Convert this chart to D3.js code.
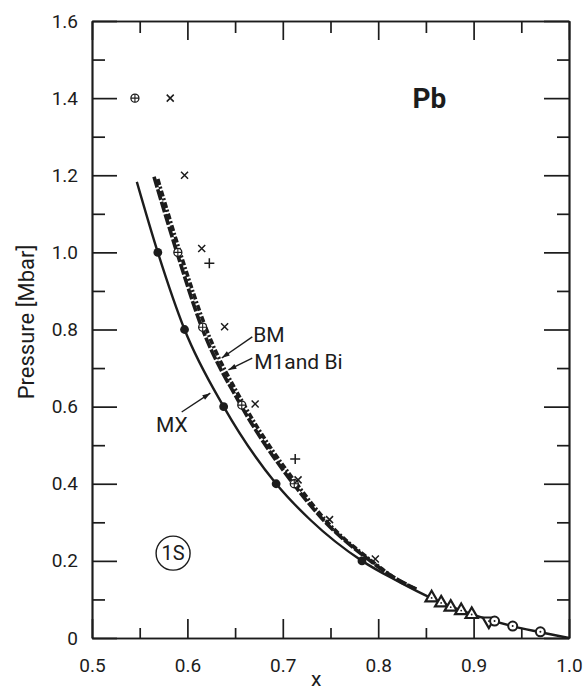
<!DOCTYPE html>
<html>
<head>
<meta charset="utf-8">
<script src="https://cdn.jsdelivr.net/npm/d3@7"></script>
<style>
body { margin: 0; background: #fff; }
text { font-family: Roboto, "DejaVu Sans", sans-serif; fill: #1c1c1c; }
</style>
</head>
<body>
<script>
var w = 587;
var h = 695;

// axis ticks
var xMajor = [0.5, 0.6, 0.7, 0.8, 0.9, 1.0];
var xMinor = [0.55, 0.65, 0.75, 0.85, 0.95];
var yMajor = [0, 0.2, 0.4, 0.6, 0.8, 1.0, 1.2, 1.4, 1.6];
var yMinor = [0.1, 0.3, 0.5, 0.7, 0.9, 1.1, 1.3, 1.5];

// curves
var mxX = [0.547, 0.569, 0.597, 0.638, 0.693, 0.729, 0.783, 0.82, 0.856, 0.90, 0.94, 0.97, 1.0];
var mxP = [1.183, 1.0, 0.80, 0.60, 0.40, 0.306, 0.20, 0.148, 0.103, 0.06, 0.031, 0.015, 0];
var bmX = [0.565, 0.589, 0.615, 0.656, 0.711, 0.741, 0.789, 0.82, 0.84];
var bmP = [1.196, 1.0, 0.806, 0.604, 0.40, 0.31, 0.205, 0.152, 0.127];
var m1X = [0.569, 0.593, 0.620, 0.661, 0.716, 0.745, 0.792, 0.821, 0.84];
var m1P = [1.19, 0.995, 0.80, 0.598, 0.395, 0.305, 0.202, 0.150, 0.126];

// measured points
var dotX = [0.569, 0.597, 0.638, 0.693, 0.783];
var dotP = [1.0, 0.80, 0.60, 0.40, 0.20];
var opX = [0.545, 0.590, 0.616, 0.657, 0.712];
var opP = [1.40, 1.0, 0.806, 0.604, 0.40];
var crossX = [0.582, 0.597, 0.615, 0.639, 0.671, 0.716, 0.749, 0.797];
var crossP = [1.40, 1.20, 1.01, 0.807, 0.607, 0.41, 0.307, 0.205];
var plusX = [0.623, 0.713];
var plusP = [0.972, 0.464];
var triX = [0.856, 0.866, 0.876, 0.887, 0.898];
var triP = [0.104, 0.091, 0.080, 0.071, 0.061];
var triDownX = [0.916];
var triDownP = [0.044];
var cdotX = [0.922, 0.941, 0.970];
var cdotP = [0.044, 0.031, 0.016];

var ink = "#1c1c1c";

var svg = d3.select("body").append("svg")
    .attr("width", w)
    .attr("height", h);

var x = d3.scaleLinear().domain([0.5, 1.0]).range([92, 569]);
var y = d3.scaleLinear().domain([0, 1.6]).range([638, 21]);

function fmt(d) { return d === 0 ? "0" : d3.format(".1f")(d); }

// frame + ticks
var g = svg.append("g");
g.append("g").attr("transform", "translate(0,638)")
    .call(d3.axisBottom(x).tickValues(xMajor).tickSize(-19).tickSizeOuter(0).tickPadding(21).tickFormat(fmt));
g.append("g").attr("transform", "translate(0,638)")
    .call(d3.axisBottom(x).tickValues(xMinor).tickSize(-10).tickSizeOuter(0).tickFormat(""));
g.append("g").attr("transform", "translate(0,21)")
    .call(d3.axisTop(x).tickValues(xMajor).tickSize(-19).tickSizeOuter(0).tickFormat(""));
g.append("g").attr("transform", "translate(0,21)")
    .call(d3.axisTop(x).tickValues(xMinor).tickSize(-12).tickSizeOuter(0).tickFormat(""));
g.append("g").attr("transform", "translate(92,0)")
    .call(d3.axisLeft(y).tickValues(yMajor).tickSize(-25).tickSizeOuter(0).tickPadding(14).tickFormat(fmt));
g.append("g").attr("transform", "translate(92,0)")
    .call(d3.axisLeft(y).tickValues(yMinor).tickSize(-13).tickSizeOuter(0).tickFormat(""));
g.append("g").attr("transform", "translate(569,0)")
    .call(d3.axisRight(y).tickValues(yMajor).tickSize(-25).tickSizeOuter(0).tickFormat(""));
g.append("g").attr("transform", "translate(569,0)")
    .call(d3.axisRight(y).tickValues(yMinor).tickSize(-12).tickSizeOuter(0).tickFormat(""));

g.selectAll(".domain").attr("stroke", ink).attr("stroke-width", 1.7);
g.selectAll(".tick line").attr("stroke", ink).attr("stroke-width", 1.7);
g.selectAll(".tick text").style("font-size", "19px").attr("fill", ink);

svg.append("text")
    .attr("x", x(0.735)).attr("y", 686)
    .attr("text-anchor", "middle")
    .style("font-size", "21px")
    .text("x");

svg.append("text")
    .attr("transform", "translate(34," + 322 + ") rotate(-90)")
    .attr("text-anchor", "middle")
    .style("font-size", "22px")
    .text("Pressure [Mbar]");

// curves
var line = d3.line().curve(d3.curveMonotoneX)
    .x(function (d) { return x(d[0]); })
    .y(function (d) { return y(d[1]); });

function zip(a, b) { return a.map(function (v, i) { return [v, b[i]]; }); }

svg.append("path").attr("d", line(zip(bmX, bmP)))
    .attr("fill", "none").attr("stroke", ink).attr("stroke-width", 3.6)
    .attr("stroke-dasharray", "11 2");
svg.append("path").attr("d", line(zip(m1X, m1P)))
    .attr("fill", "none").attr("stroke", ink).attr("stroke-width", 3.6)
    .attr("stroke-dasharray", "6 2 2 2");
svg.append("path").attr("d", line(zip(mxX, mxP)))
    .attr("fill", "none").attr("stroke", ink).attr("stroke-width", 2.4);

// points
svg.selectAll(".dot").data(zip(dotX, dotP)).enter().append("circle")
    .attr("cx", function (d) { return x(d[0]); })
    .attr("cy", function (d) { return y(d[1]); })
    .attr("r", 4.4).attr("fill", ink);

var op = svg.selectAll(".op").data(zip(opX, opP)).enter().append("g")
    .attr("transform", function (d) { return "translate(" + x(d[0]) + "," + y(d[1]) + ")"; });
op.append("circle").attr("r", 4).attr("fill", "#fff").attr("stroke", ink).attr("stroke-width", 1.3);
op.append("path").attr("d", "M-4,0H4M0,-4V4").attr("stroke", ink).attr("stroke-width", 1.1);

svg.selectAll(".cross").data(zip(crossX, crossP)).enter().append("path")
    .attr("transform", function (d) { return "translate(" + x(d[0]) + "," + y(d[1]) + ")"; })
    .attr("d", "M-3.5,-3.5L3.5,3.5M-3.5,3.5L3.5,-3.5")
    .attr("stroke", ink).attr("stroke-width", 1.5);

svg.selectAll(".plus").data(zip(plusX, plusP)).enter().append("path")
    .attr("transform", function (d) { return "translate(" + x(d[0]) + "," + y(d[1]) + ")"; })
    .attr("d", "M-5,0H5M0,-5V5")
    .attr("stroke", ink).attr("stroke-width", 1.5);

var sym = d3.symbol().type(d3.symbolTriangle).size(65);
svg.selectAll(".tri").data(zip(triX, triP)).enter().append("g")
    .attr("transform", function (d) { return "translate(" + x(d[0]) + "," + y(d[1]) + ")"; })
    .each(function () {
        var s = d3.select(this);
        s.append("path").attr("d", sym()).attr("fill", "#fff").attr("stroke", ink).attr("stroke-width", 2.2);
        s.append("circle").attr("r", 0.9).attr("fill", ink);
    });
svg.selectAll(".trid").data(zip(triDownX, triDownP)).enter().append("g")
    .attr("transform", function (d) { return "translate(" + x(d[0]) + "," + y(d[1]) + ") rotate(180)"; })
    .each(function () {
        var s = d3.select(this);
        s.append("path").attr("d", sym()).attr("fill", "#fff").attr("stroke", ink).attr("stroke-width", 2.2);
        s.append("circle").attr("r", 0.9).attr("fill", ink);
    });
var cd = svg.selectAll(".cd").data(zip(cdotX, cdotP)).enter().append("g")
    .attr("transform", function (d) { return "translate(" + x(d[0]) + "," + y(d[1]) + ")"; });
cd.append("circle").attr("r", 4.5).attr("fill", "#fff").attr("stroke", ink).attr("stroke-width", 2);
cd.append("circle").attr("r", 1).attr("fill", ink);

// labels and arrows
var notes = [
    { t: "BM", x: 0.669, p: 0.768, fx: 0.668, fp: 0.781, tx: 0.636, tp: 0.726 },
    { t: "M1and Bi", x: 0.670, p: 0.698, fx: 0.668, fp: 0.726, tx: 0.643, tp: 0.695 },
    { t: "MX", x: 0.567, p: 0.534, fx: 0.594, fp: 0.586, tx: 0.624, tp: 0.635 }
];
notes.forEach(function (n) {
    svg.append("text").attr("x", x(n.x)).attr("y", y(n.p))
        .style("font-size", "21px").text(n.t);
    var x1 = x(n.fx), y1 = y(n.fp), x2 = x(n.tx), y2 = y(n.tp);
    var a = Math.atan2(y2 - y1, x2 - x1);
    svg.append("line").attr("x1", x1).attr("y1", y1).attr("x2", x2).attr("y2", y2)
        .attr("stroke", ink).attr("stroke-width", 1.4);
    var L = 8, W = 2.6;
    var bx = x2 - L * Math.cos(a), by = y2 - L * Math.sin(a);
    svg.append("path")
        .attr("d", "M" + x2 + "," + y2 +
            "L" + (bx + W * Math.sin(a)) + "," + (by - W * Math.cos(a)) +
            "L" + (bx - W * Math.sin(a)) + "," + (by + W * Math.cos(a)) + "Z")
        .attr("fill", ink);
});

svg.append("text").attr("x", x(0.836)).attr("y", y(1.374))
    .style("font-size", "28px").style("font-weight", "bold").text("Pb");

svg.append("circle").attr("cx", x(0.585)).attr("cy", y(0.22)).attr("r", 17)
    .attr("fill", "none").attr("stroke", ink).attr("stroke-width", 1.4);
svg.append("text").attr("x", x(0.585)).attr("y", y(0.22) + 7)
    .attr("text-anchor", "middle").style("font-size", "20px").text("1S");
</script>
</body>
</html>
